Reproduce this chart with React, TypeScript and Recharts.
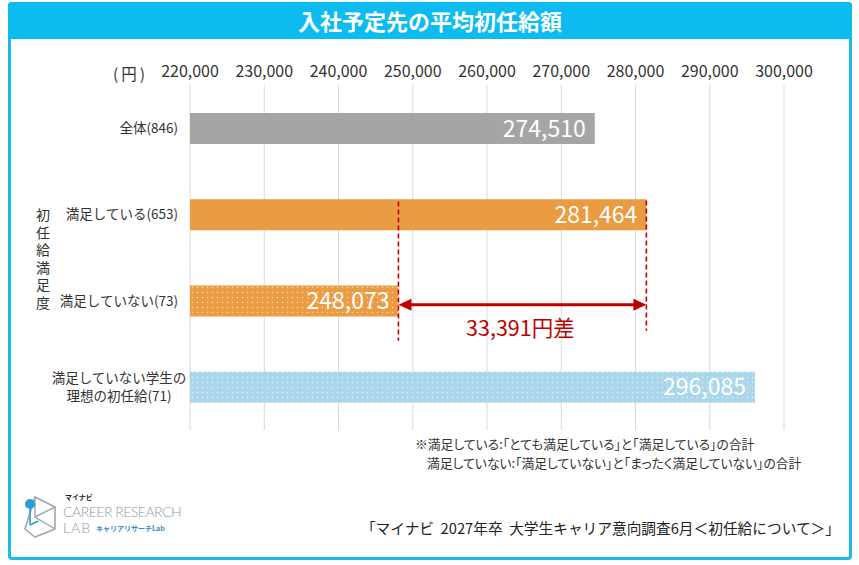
import { Bar, BarChart, CartesianGrid, Cell, LabelList, ReferenceLine, XAxis, YAxis } from 'recharts'

const CATEGORIES = ['全体(846)', '満足している(653)', '満足していない(73)', '満足していない学生の\n理想の初任給(71)']
const SALARIES = [274510, 281464, 248073, 296085]
const FILLS = ['#a5a5a5', '#eb9b41', 'url(#dotOrange)', 'url(#dotBlue)']
const X_TICKS = [220000, 230000, 240000, 250000, 260000, 270000, 280000, 290000, 300000]
const NOTES = [
  '※満足している:「とても満足している」と「満足している」の合計',
  '満足していない:「満足していない」と「まったく満足していない」の合計',
]
const SIDE_LABEL = '初任給満足度'

const FONT = '"Noto Sans CJK JP", "Noto Sans", sans-serif'
const RED = '#c00000'

const rows = CATEGORIES.map((name, i) => ({ name, value: SALARIES[i] }))
const fmt = (v: number) => v.toLocaleString('en-US')

// 満足 vs 不満足 の差
const HIGH = SALARIES[1]
const LOW = SALARIES[2]

function CategoryTick(props: any) {
  const { x, y, payload } = props
  const lines = String(payload.value).split('\n')
  if (lines.length === 1) {
    return (
      <text x={x} y={y} dy={5} textAnchor="end" fontSize={13.5} fill="#333" fontFamily={FONT}>
        {lines[0]}
      </text>
    )
  }
  return (
    <text x={x - 59} y={y} textAnchor="middle" fontSize={13.5} fill="#333" fontFamily={FONT}>
      {lines.map((l, i) => (
        <tspan key={i} x={x - 59} dy={i === 0 ? -4 : 18}>
          {l}
        </tspan>
      ))}
    </text>
  )
}

function DashedMarker(props: any) {
  const { x1, y1, x2, y2, top, bottom } = props
  return (
    <line x1={x1} y1={y1 - top} x2={x2} y2={y2 + bottom} stroke={RED} strokeWidth={1.6} strokeDasharray="5 3" />
  )
}

function GapArrow(props: any) {
  const { x1, y1, x2 } = props
  const y = y1 + 4
  return (
    <g>
      <line x1={x1 + 10} y1={y} x2={x2 - 10} y2={y} stroke={RED} strokeWidth={3} />
      <polygon points={`${x1},${y} ${x1 + 13},${y - 6} ${x1 + 13},${y + 6}`} fill={RED} />
      <polygon points={`${x2},${y} ${x2 - 13},${y - 6} ${x2 - 13},${y + 6}`} fill={RED} />
      <text x={(x1 + x2) / 2 - 2} y={y + 31} textAnchor="middle" fontSize={21.5} fill={RED} fontFamily={FONT}>
        {fmt(HIGH - LOW)}円差
      </text>
    </g>
  )
}

function Logo() {
  return (
    <div style={{ position: 'absolute', left: 20, top: 493, width: 170, height: 48 }}>
      <svg width={44} height={48} style={{ position: 'absolute', left: 0, top: 0 }}>
        <polygon points="15,4 35,14 35,36 15,44 5,36" fill="none" stroke="#9aa8b6" strokeWidth={1.6} />
        <polyline points="15,4 15,24 35,36" fill="none" stroke="#9aa8b6" strokeWidth={1.4} />
        <polyline points="15,24 35,14" fill="none" stroke="#9aa8b6" strokeWidth={1.4} />
        <line x1={10} y1={15} x2={10} y2={32} stroke="#2f9bd6" strokeWidth={1.6} />
        <line x1={10} y1={32} x2={18} y2={28} stroke="#2f9bd6" strokeWidth={1.6} />
        <circle cx={10} cy={11} r={5} fill="#2f9bd6" />
      </svg>
      <div style={{ position: 'absolute', left: 45, top: 0, fontSize: 7, lineHeight: '9px', fontWeight: 700, color: '#222' }}>
        マイナビ
      </div>
      <div
        style={{
          position: 'absolute',
          left: 43,
          top: 12,
          fontSize: 14,
          lineHeight: '14px',
          fontFamily: 'Lato, sans-serif',
          fontWeight: 300,
          color: '#8a9aa9',
          letterSpacing: '-0.5px',
          whiteSpace: 'nowrap',
        }}
      >
        CAREER RESEARCH
      </div>
      <div
        style={{
          position: 'absolute',
          left: 43,
          top: 28,
          fontSize: 14,
          lineHeight: '14px',
          fontFamily: 'Lato, sans-serif',
          fontWeight: 300,
          color: '#8a9aa9',
          letterSpacing: '1px',
        }}
      >
        LAB
      </div>
      <div
        style={{
          position: 'absolute',
          left: 76,
          top: 31,
          fontSize: 7,
          lineHeight: '9px',
          fontWeight: 700,
          color: '#2e8bd0',
          whiteSpace: 'nowrap',
        }}
      >
        キャリアリサーチLab
      </div>
    </div>
  )
}

export default function App() {
  return (
    <div style={{ position: 'relative', width: 859, height: 565, background: '#fff', fontFamily: FONT, color: '#333' }}>
      <style>{'body{margin:0}'}</style>
      <div
        style={{
          position: 'absolute',
          left: 8,
          top: 2,
          width: 844,
          height: 558,
          border: '3px solid #1bb9ec',
          borderRadius: 4,
          boxSizing: 'border-box',
        }}
      />
      <div
        style={{
          position: 'absolute',
          left: 8,
          top: 2,
          width: 844,
          height: 37,
          background: '#0cbcf0',
          borderRadius: '4px 4px 0 0',
          color: '#fff',
          fontSize: 22,
          fontWeight: 700,
          lineHeight: '37px',
          textAlign: 'center',
        }}
      >
        入社予定先の平均初任給額
      </div>

      <div style={{ position: 'absolute', left: 0, top: 0 }}>
        <BarChart
          width={859}
          height={565}
          data={rows}
          layout="vertical"
          margin={{ top: 55, right: 75, bottom: 135, left: 0 }}
          barSize={31}
        >
          <defs>
            <pattern id="dotOrange" width={5} height={5} patternUnits="userSpaceOnUse">
              <rect width={5} height={5} fill="#eb9b41" />
              <circle cx={2.5} cy={2.5} r={0.7} fill="#fff" fillOpacity={0.7} />
            </pattern>
            <pattern id="dotBlue" width={5} height={5} patternUnits="userSpaceOnUse">
              <rect width={5} height={5} fill="#a9d6eb" />
              <circle cx={2.5} cy={2.5} r={0.7} fill="#fff" fillOpacity={0.7} />
            </pattern>
          </defs>
          <CartesianGrid horizontal={false} stroke="#d9d9d9" />
          <XAxis
            type="number"
            orientation="top"
            domain={[220000, 300000]}
            ticks={X_TICKS}
            tickFormatter={fmt}
            axisLine={false}
            tickLine={false}
            height={30}
            tick={{ fontSize: 16, fill: '#333', fontFamily: FONT }}
            allowDataOverflow
          />
          <YAxis
            type="category"
            dataKey="name"
            width={190}
            axisLine={false}
            tickLine={false}
            tickSize={6}
            tickMargin={6}
            tick={<CategoryTick />}
          />
          <Bar dataKey="value" isAnimationActive={false}>
            {rows.map((r, i) => (
              <Cell key={r.name} fill={FILLS[i]} />
            ))}
            <LabelList
              dataKey="value"
              position="insideRight"
              offset={9}
              formatter={(v: any) => fmt(Number(v))}
              fill="#fff"
              fontSize={23}
              fontFamily={FONT}
            />
          </Bar>
          <ReferenceLine
            segment={[
              { x: LOW, y: CATEGORIES[1] },
              { x: LOW, y: CATEGORIES[2] },
            ]}
            shape={(p: any) => <DashedMarker {...p} top={13} bottom={40} />}
          />
          <ReferenceLine
            segment={[
              { x: HIGH, y: CATEGORIES[1] },
              { x: HIGH, y: CATEGORIES[2] },
            ]}
            shape={(p: any) => <DashedMarker {...p} top={14} bottom={30} />}
          />
          <ReferenceLine
            segment={[
              { x: LOW, y: CATEGORIES[2] },
              { x: HIGH, y: CATEGORIES[2] },
            ]}
            shape={(p: any) => <GapArrow {...p} />}
          />
        </BarChart>
      </div>

      <div style={{ position: 'absolute', left: 113, top: 62, fontSize: 15.5, letterSpacing: '3px' }}>(円)</div>

      <div
        style={{
          position: 'absolute',
          left: 33,
          top: 208,
          fontSize: 14,
          lineHeight: '20px',
          letterSpacing: '3.5px',
          writingMode: 'vertical-rl',
        }}
      >
        {SIDE_LABEL}
      </div>

      <div
        style={{
          position: 'absolute',
          left: 415,
          top: 434,
          fontSize: 12.8,
          lineHeight: '19px',
          whiteSpace: 'nowrap',
          fontFeatureSettings: '"palt"',
        }}
      >
        <div>{NOTES[0]}</div>
        <div style={{ paddingLeft: 12 }}>{NOTES[1]}</div>
      </div>

      <div style={{ position: 'absolute', right: 19, top: 517, fontSize: 14.7, whiteSpace: 'nowrap', color: '#222' }}>
        「マイナビ&nbsp;&nbsp;2027年卒&nbsp;&nbsp;大学生キャリア意向調査6月＜初任給について＞」
      </div>

      <Logo />
    </div>
  )
}
